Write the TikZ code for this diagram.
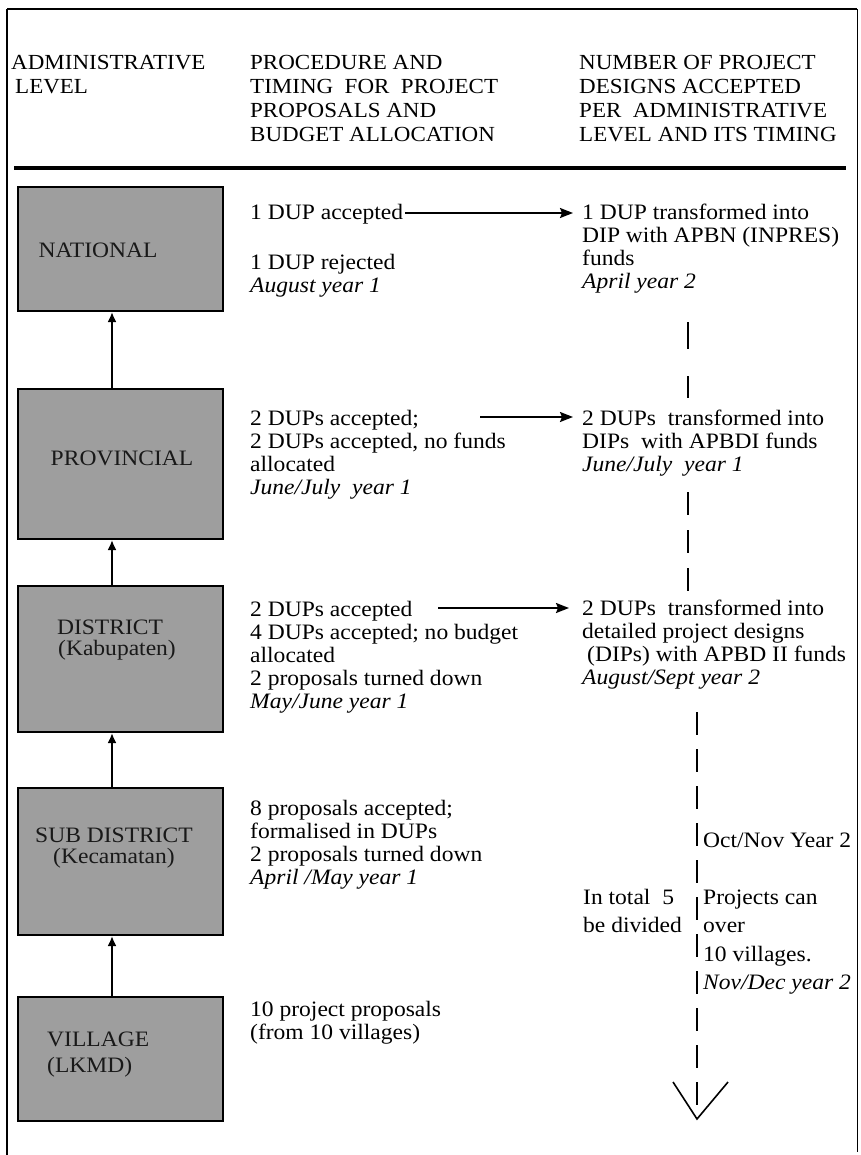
\documentclass[tikz,border=0pt]{standalone}
\usepackage{fontspec}
\setmainfont{Liberation Serif}[FakeStretch=1.07]
\usetikzlibrary{arrows.meta}
\newcommand\txtsize{\fontsize{22}{23}\selectfont}
\newcommand\hdsize{\fontsize{21.5}{23.7}\selectfont}
\newcommand\lbsize{\fontsize{22}{21}\selectfont}
\begin{document}
\begin{tikzpicture}[x=1pt,y=-1pt,
  levelbox/.style={draw=black, line width=2pt, fill=black!38, minimum width=205pt, inner sep=0pt},
  lvlabel/.style={inner sep=0pt, align=center, font=\lbsize, text=black!90},
  txt/.style={anchor=base west, inner sep=0pt, align=left, font=\txtsize},
  head/.style={anchor=base west, inner sep=0pt, align=left, font=\hdsize},
  uparrow/.style={line width=2pt, -{Latex[length=10pt,width=9pt]}},
  flowarrow/.style={line width=1.8pt, -{Stealth[length=13pt,width=10pt,inset=2pt]}},
  timeline/.style={line width=2.6pt, dash pattern=on 23pt off 14pt}]
\useasboundingbox (0,0) rectangle (860,1155);

% outer frame
\draw[line width=2pt] (7,1155) -- (7,9);
\draw[line width=1.3pt] (7,9) -- (857,9);
\draw[line width=1pt] (857,9) -- (857,1152);

% column headings (each node is placed at the baseline of its last line)
\node[head] (h1) at (11,93.7) {ADMINISTRATIVE\\\hspace{4pt}LEVEL};
\node[head] (h2) at (250,141.1) {PROCEDURE AND\\TIMING\ \ FOR\ \ PROJECT\\PROPOSALS AND\\BUDGET ALLOCATION};
\node[head] (h3) at (579,141.1) {NUMBER OF PROJECT\\DESIGNS ACCEPTED\\PER\ \ ADMINISTRATIVE\\LEVEL AND ITS TIMING};
\draw[line width=4pt] (14,168) -- (846,168);

% administrative levels
\node[levelbox, minimum height=124pt] (nat)  at (120.5,249)  {};
\node[levelbox, minimum height=150pt] (prov) at (120.5,464)  {};
\node[levelbox, minimum height=146pt] (dist) at (120.5,659)  {};
\node[levelbox, minimum height=147pt] (sub)  at (120.5,861.5) {};
\node[levelbox, minimum height=124pt] (vil)  at (120.5,1059) {};

\node[lvlabel] (natl)  at (98,250)  {NATIONAL};
\node[lvlabel] (provl) at (122,458) {PROVINCIAL};
\node[lvlabel] (distl) at (110,640) {DISTRICT\\\hspace{14pt}(Kabupaten)};
\node[lvlabel] (subl)  at (114,848) {SUB DISTRICT\\(Kecamatan)};
\node[lvlabel, anchor=west, align=left, font=\fontsize{22}{26}\selectfont] (vill) at (47,1055) {VILLAGE\\(LKMD)};

\coordinate (ax) at (112,0);
\draw[uparrow] (prov.north -| ax) -- (nat.south -| ax);
\draw[uparrow] (dist.north -| ax) -- (prov.south -| ax);
\draw[uparrow] (sub.north -| ax) -- (dist.south -| ax);
\draw[uparrow] (vil.north -| ax) -- (sub.south -| ax);

% procedure and timing
\node[txt] (p1a) at (250,220) {1 DUP accepted};
\node[txt] (p1b) at (250,292) {1 DUP rejected\\\textit{August year 1}};
\node[txt] (p2) at (250,494) {2 DUPs accepted;\\2 DUPs accepted, no funds\\allocated\\\textit{June/July\ \ year 1}};
\node[txt] (p3) at (250,708) {2 DUPs accepted\\4 DUPs accepted; no budget\\allocated\\2 proposals turned down\\\textit{May/June year 1}};
\node[txt] (p4) at (250,884) {8 proposals accepted;\\formalised in DUPs\\2 proposals turned down\\\textit{April /May year 1}};
\node[txt] (p5) at (250,1039) {10 project proposals\\(from 10 villages)};

% accepted designs
\node[txt] (n1) at (582,289) {1 DUP transformed into\\DIP with APBN (INPRES)\\funds\\\textit{April year 2}};
\node[txt] (n2) at (582,471) {2 DUPs\ \ transformed into\\DIPs\ \ with APBDI funds\\\textit{June/July\ \ year 1}};
\node[txt] (n3) at (582,684) {2 DUPs\ \ transformed into\\detailed project designs\\\hspace{5pt}(DIPs) with APBD II funds\\\textit{August/Sept year 2}};
\node[txt, font=\fontsize{22}{28}\selectfont] (tot) at (583,932) {In total\ \ 5\\be divided};
\node[txt] (oct) at (703,847) {Oct/Nov Year 2};
\node[txt, font=\fontsize{22}{28.5}\selectfont] (proj) at (703,989.5) {Projects can\\over\\10 villages.\\\textit{Nov/Dec year 2}};

% horizontal transfers
\coordinate (a2s) at (480,417);
\coordinate (a3s) at (438,608);
\draw[flowarrow] ([xshift=2pt]p1a.east |- 0,213) -- ([xshift=-9pt]n1.west |- 0,213);
\draw[flowarrow] (a2s) -- ([xshift=-9pt]a2s -| n2.west);
\draw[flowarrow] (a3s) -- ([xshift=-13pt]a3s -| n3.west);

% time line
\coordinate (d1a) at (688,322);
\coordinate (d1b) at (688,398);
\coordinate (d2a) at (688,492);
\coordinate (d2b) at (688,597);
\coordinate (d3a) at (697,712);
\coordinate (d3b) at (697,1119);
\draw[timeline, dash pattern=on 27pt off 27pt] (d1a) -- (d1b);
\draw[timeline, dash pattern=on 23pt off 15pt] (d2a) -- (d2b);
\draw[timeline] (d3a) -- (d3b);
\draw[line width=1.6pt] (d3b) ++(-24,-37) -- (d3b) -- ++(31,-37);
\end{tikzpicture}
\end{document}
